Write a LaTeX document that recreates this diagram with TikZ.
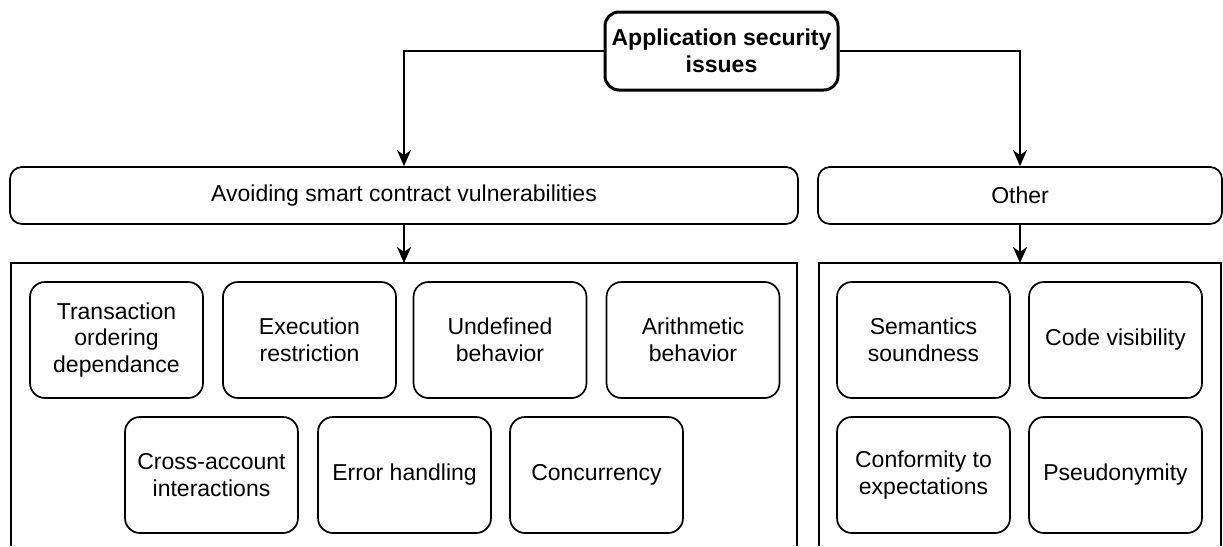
\documentclass[tikz,border=0pt]{standalone}
\usepackage{fontspec}
\setmainfont{Liberation Sans}
\usetikzlibrary{arrows.meta}
\tikzset{
  txt/.style={font=\fontsize{23}{26.5}\selectfont},
  item/.style={draw, txt, rounded corners=15pt, line width=1.7pt, minimum width=173pt, minimum height=116pt, align=center, inner sep=2pt},
  head/.style={draw, txt, rounded corners=12pt, line width=1.7pt, minimum height=57pt, inner sep=0pt},
  topbox/.style={draw, font=\fontsize{23}{26.5}\selectfont\bfseries, rounded corners=14pt, line width=3pt, minimum width=233pt, minimum height=78pt, align=center, inner sep=0pt},
  cont/.style={inner sep=0pt, outer sep=0pt},
  contline/.style={line width=1.7pt},
  arr/.style={-{Stealth[length=16pt,width=14pt,inset=5pt]}, line width=2pt},
  arrthick/.style={-{Stealth[length=16pt,width=14pt,inset=5pt]}, line width=2.6pt}
}
\begin{document}
\begin{tikzpicture}[x=1pt,y=-1pt]
\useasboundingbox (0,0) rectangle (1223,546);
% top
\node[topbox] (top) at (721.5,51) {Application security\\issues};
% headings
\node[head, minimum width=788pt] (avoid) at (404,195.5) {Avoiding smart contract vulnerabilities};
\node[head, minimum width=404pt] (other) at (1020,195.5) {Other};
% containers
\node[cont, minimum width=786pt, minimum height=283pt] (contL) at (404,404.5) {};
\node[cont, minimum width=402pt, minimum height=283pt] (contR) at (1020,404.5) {};
\draw[contline] (contL.south west) |- (contL.north east) -- (contL.south east);
\draw[contline] (contR.south west) |- (contR.north east) -- (contR.south east);
% connectors
\draw[arr] (top.west) -| (avoid.north);
\draw[arr] (top.east) -| (other.north);
\draw[arrthick] (avoid.south) -- (contL.north);
\draw[arrthick] (other.south) -- (contR.north);
% left items
\node[item] (t1) at (116.5,340) {Transaction\\ordering\\dependance};
\node[item] (t2) at (309.5,340) {Execution\\restriction};
\node[item] (t3) at (500,340) {Undefined\\behavior};
\node[item] (t4) at (693,340) {Arithmetic\\behavior};
\node[item] (t5) at (211.5,475) {Cross-account\\interactions};
\node[item] (t6) at (404.5,475) {Error handling};
\node[item] (t7) at (596.5,475) {Concurrency};
% right items
\node[item] (r1) at (923.5,340) {Semantics\\soundness};
\node[item] (r2) at (1115.5,340) {Code visibility};
\node[item] (r3) at (923.5,475) {Conformity to\\expectations};
\node[item] (r4) at (1115.5,475) {Pseudonymity};
\end{tikzpicture}
\end{document}
